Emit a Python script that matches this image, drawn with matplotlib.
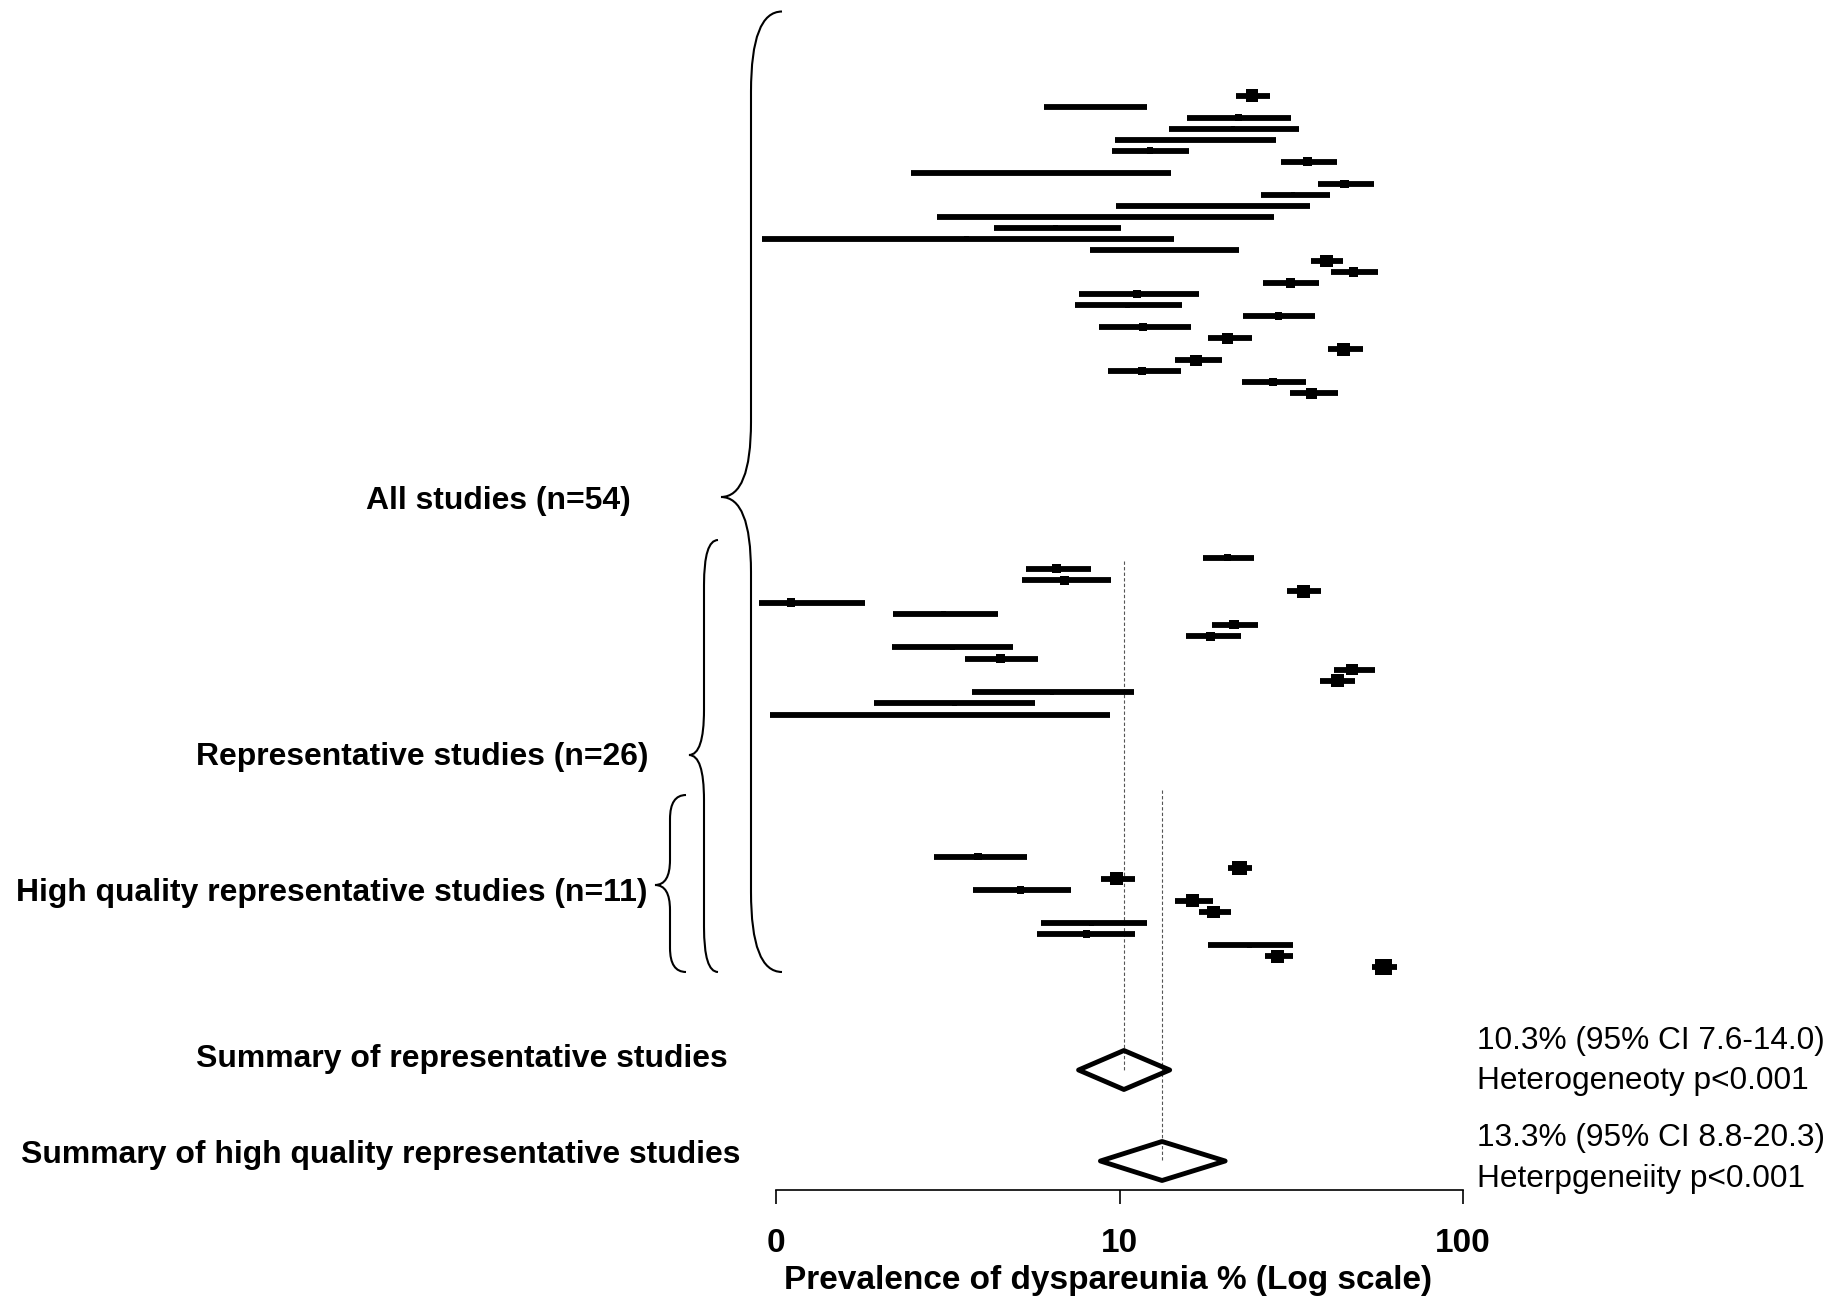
import numpy as np
import matplotlib
matplotlib.use("Agg")
import matplotlib.pyplot as plt
from matplotlib.path import Path
from matplotlib.patches import PathPatch, Polygon
from matplotlib.ticker import NullLocator

plt.rcParams['font.family'] = ['Liberation Sans', 'DejaVu Sans']

# ---------------- data (prevalence %, 95% CI, relative weight) ----------------
# non-representative studies (part of "All studies")
other_est = [24.3, 8.5, 22.2, 21.4, 16.7, 12.25, 35.3, 5.93, 45.2, 32.0, 18.7, 9.1, 6.5, 3.58,
             13.5, 40.1, 48.1, 31.5, 11.24, 10.52, 29.0, 11.69, 20.65, 44.9, 16.7, 11.64, 28.0, 36.2]
other_lo = [21.86, 6.01, 15.7, 13.98, 9.71, 9.51, 29.5, 2.47, 37.8, 25.9, 9.76, 2.95, 4.31, 0.913,
            8.18, 36.2, 41.3, 26.2, 7.6, 7.44, 22.86, 8.7, 18.12, 40.5, 14.48, 9.23, 22.76, 31.3]
other_hi = [27.4, 12.0, 31.6, 33.3, 28.6, 15.9, 42.9, 14.13, 55.1, 40.9, 35.8, 28.1, 10.1, 14.38,
            22.26, 44.8, 56.65, 38.2, 17.06, 15.19, 37.1, 16.1, 24.27, 51.3, 19.94, 15.09, 35.0, 43.2]
other_w = [9, 0.3, 3.1, 1.3, 0.3, 2.2, 4.5, 0.3, 3.8, 1.3, 0.3, 0.3, 1.3, 1.3,
           0.3, 9, 4.5, 4.5, 3.1, 1.3, 3.1, 3.1, 6.9, 9, 6.9, 3.1, 3.1, 6.9]

# representative studies (not high quality)
rep_est = [20.65, 6.54, 6.92, 34.4, 1.107, 3.07, 21.55, 18.43, 3.26, 4.51, 47.5, 43.2, 6.36, 3.3, 3.0]
rep_lo = [17.52, 5.35, 5.2, 30.7, 0.893, 2.19, 18.58, 15.6, 2.17, 3.56, 42.1, 38.4, 3.72, 1.93, 0.96]
rep_hi = [24.67, 8.24, 9.43, 38.7, 1.81, 4.42, 25.37, 22.56, 4.9, 5.79, 55.6, 48.6, 11.03, 5.69, 9.38]
rep_w = [3.1, 4.5, 4.5, 9, 3.8, 1.3, 4.5, 4.5, 1.3, 4.5, 6.9, 9, 1.3, 1.3, 0.3]

# high quality representative studies
hq_est = [3.87, 22.37, 9.79, 5.15, 16.3, 18.73, 8.31, 8.01, 23.87, 28.89, 58.7]
hq_lo = [2.89, 20.65, 8.84, 3.75, 14.53, 17.06, 5.91, 5.76, 18.12, 26.49, 54.3]
hq_hi = [5.37, 24.37, 11.13, 7.22, 18.73, 21.05, 12.0, 11.13, 32.1, 32.1, 64.3]
hq_w = [3.1, 11, 9, 3.1, 9, 9, 1.3, 3.1, 1.3, 9, 14]

# pooled estimates
summary_labels = ["Summary of representative studies",
                  "Summary of high quality representative studies"]
summary_est = [10.3, 13.3]
summary_lo = [7.6, 8.8]
summary_hi = [14.0, 20.3]
summary_text = [["10.3% (95% CI 7.6-14.0)", "Heterogeneoty p<0.001"],
                ["13.3% (95% CI 8.8-20.3)", "Heterpgeneiity p<0.001"]]

group_labels = ["All studies (n=54)", "Representative studies (n=26)",
                "High quality representative studies (n=11)"]

tick_values = [1, 10, 100]
tick_labels = ["0", "10", "100"]
x_label = "Prevalence of dyspareunia % (Log scale)"

# ---------------- layout ----------------
W, H = 1838, 1296
fig = plt.figure(figsize=(W / 100, H / 100), dpi=100)

deco = fig.add_axes([0, 0, 1, 1])
deco.set_xlim(0, W)
deco.set_ylim(H, 0)
deco.axis('off')

x_left_px, x100_px = 741.65, 1463.0
axis_y_px = 1190.0
ax = fig.add_axes([x_left_px / W, (H - axis_y_px) / H, (x100_px - x_left_px) / W, axis_y_px / H])
ax.patch.set_visible(False)
ax.set_xscale('log')
ax.set_xlim(10 ** -0.1, 100)
ax.set_ylim(axis_y_px, 0)

bar_lw = 4.2
def draw_group(est, lo, hi, w, y0, step):
    ys = y0 + step * np.arange(len(est))
    ax.hlines(ys, lo, hi, color='black', lw=bar_lw, capstyle='butt', clip_on=False, zorder=3)
    side_px = 4.3 * np.sqrt(np.asarray(w, dtype=float))
    s = (side_px * 0.72) ** 2
    ax.scatter(est, ys, s=s, marker='s', color='black', linewidths=0, clip_on=False, zorder=4)

draw_group(other_est, other_lo, other_hi, other_w, 95.5, 11.03)
draw_group(rep_est, rep_lo, rep_hi, rep_w, 557.7, 11.2)
draw_group(hq_est, hq_lo, hq_hi, hq_w, 856.7, 11.06)

# reference lines and diamonds
diam_y = [1070, 1161]
ref_top = [561, 790]
diam_h = 19.5
for i in range(2):
    ax.vlines(summary_est[i], ref_top[i], diam_y[i], colors='#555555', lw=0.8,
              linestyles=(0, (3, 2)), zorder=2)
    poly = Polygon([(summary_lo[i], diam_y[i]), (summary_est[i], diam_y[i] - diam_h),
                    (summary_hi[i], diam_y[i]), (summary_est[i], diam_y[i] + diam_h)],
                   closed=True, facecolor='none', edgecolor='black', lw=3.5,
                   joinstyle='round', zorder=5)
    ax.add_patch(poly)

# axis
for side in ['left', 'right', 'top']:
    ax.spines[side].set_visible(False)
ax.spines['bottom'].set_bounds(1, 100)
ax.spines['bottom'].set_linewidth(1.2)
ax.set_yticks([])
ax.set_xticks(tick_values)
ax.xaxis.set_minor_locator(NullLocator())
ax.set_xticklabels(tick_labels, fontweight='bold', fontsize=24)
ax.tick_params(axis='x', length=10, width=1.2, pad=17, direction='out')

deco.text(1108, 1280.5, x_label, ha='center', va='center', fontsize=24, fontweight='bold')

# braces
def brace(x_end, x_v, x_tip, y_top, y_bot, y_tip, r_end, r_mid):
    verts = [(x_end, y_top), (x_v, y_top), (x_v, y_top + r_end),
             (x_v, y_tip - r_mid),
             (x_v, y_tip), (x_tip, y_tip),
             (x_v, y_tip), (x_v, y_tip + r_mid),
             (x_v, y_bot - r_end),
             (x_v, y_bot), (x_end, y_bot)]
    codes = [Path.MOVETO, Path.CURVE3, Path.CURVE3,
             Path.LINETO,
             Path.CURVE3, Path.CURVE3,
             Path.CURVE3, Path.CURVE3,
             Path.LINETO,
             Path.CURVE3, Path.CURVE3]
    deco.add_patch(PathPatch(Path(verts, codes), facecolor='none', edgecolor='black', lw=1.5))

brace(782, 751, 721, 11.5, 972, 497, 80, 75)
brace(718, 704, 689, 540, 972, 755, 45, 45)
brace(686, 670, 655, 795, 972, 885, 24, 25)

# labels
label_fs = 22.95
deco.text(631, 500.5, group_labels[0], ha='right', va='center', fontsize=label_fs, fontweight='bold')
deco.text(648, 756.5, group_labels[1], ha='right', va='center', fontsize=label_fs, fontweight='bold')
deco.text(648, 893, group_labels[2], ha='right', va='center', fontsize=label_fs, fontweight='bold')
deco.text(728, 1059.5, summary_labels[0], ha='right', va='center', fontsize=label_fs, fontweight='bold')
deco.text(740, 1155.5, summary_labels[1], ha='right', va='center', fontsize=label_fs, fontweight='bold')

txt_y = [[1041, 1081], [1138, 1179]]
for i in range(2):
    for j in range(2):
        deco.text(1477, txt_y[i][j], summary_text[i][j], ha='left', va='center', fontsize=22.8)

fig.savefig("out.png", dpi=100)
